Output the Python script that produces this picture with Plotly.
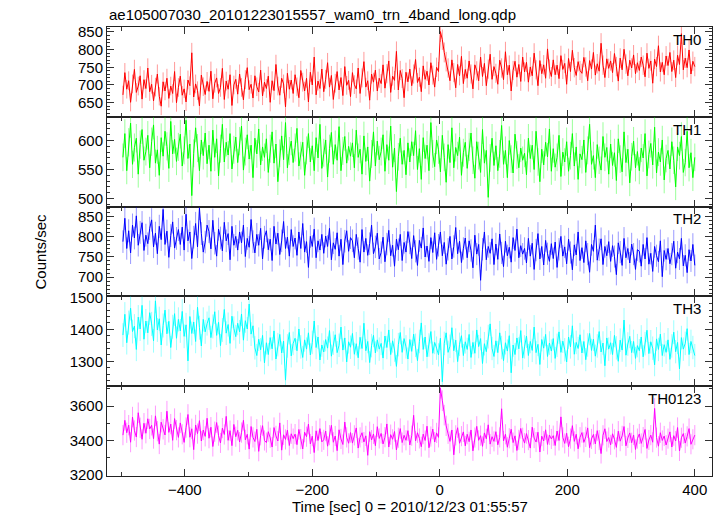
import numpy as np
import plotly.graph_objects as go
from plotly.subplots import make_subplots

TITLE = "ae105007030_20101223015557_wam0_trn_4band_long.qdp"
X_TITLE = "Time [sec] 0 = 2010/12/23 01:55:57"
Y_TITLE = "Counts/sec"
BANDS = ["TH0", "TH1", "TH2", "TH3", "TH0123"]
COLORS = ["#ff0000", "#00ff00", "#0000ff", "#00ffff", "#ff00ff"]
ERR_COLORS = ["rgba(255,0,0,0.4)", "rgba(0,255,0,0.4)", "rgba(0,0,255,0.4)",
              "rgba(0,255,255,0.4)", "rgba(255,0,255,0.4)"]

# time bins (sec, relative to 2010/12/23 01:55:57)
TIME_START = -497
TIME_STEP = 3
BIN_SEC = 1.0

th0 = [672, 735, 688, 712, 651, 703, 744, 679, 697, 726, 660, 715, 690, 748, 681,
       702, 655, 694, 731, 668, 640, 709, 683, 719, 662, 697, 676, 738, 650, 693,
       725, 671, 689, 652, 714, 698, 791, 666, 703, 684, 641, 728, 695, 673, 710,
       682, 739, 661, 705, 720, 676, 693, 747, 659, 711, 688, 729, 642, 700, 716,
       674, 731, 693, 658, 715, 749, 687, 702, 663, 726, 695, 680, 742, 669, 708,
       690, 725, 651, 712, 684, 758, 697, 671, 719, 703, 638, 733, 688, 714, 676,
       729, 695, 664, 741, 708, 683, 719, 652, 736, 700, 779, 672, 711, 690, 745,
       681, 716, 763, 694, 727, 659, 705, 738, 686, 721, 670, 752, 699, 713, 667,
       735, 701, 689, 748, 676, 720, 766, 694, 712, 657, 731, 708, 742, 683, 719,
       704, 757, 691, 732, 768, 679, 725, 713, 795, 686, 741, 718, 664, 736, 709,
       745, 698, 731, 772, 707, 722, 681, 754, 716, 739, 700, 763, 728, 694, 750,
       738, 851, 828, 792, 766, 748, 712, 771, 735, 692, 758, 726, 781, 704, 744,
       719, 768, 731, 689, 757, 740, 712, 779, 724, 761, 698, 745, 787, 716, 752,
       733, 702, 770, 748, 715, 794, 729, 756, 683, 741, 767, 722, 758, 710, 779,
       737, 764, 708, 751, 726, 790, 743, 698, 769, 732, 757, 719, 802, 745, 724,
       771, 729, 756, 718, 783, 744, 761, 702, 775, 738, 798, 749, 727, 766, 741,
       733, 778, 751, 712, 769, 745, 792, 728, 760, 739, 818, 756, 721, 774, 747,
       768, 735, 789, 752, 711, 776, 743, 801, 759, 726, 770, 748, 785, 732, 763,
       741, 779, 756, 723, 790, 747, 768, 705, 773, 752, 811, 737, 764, 729, 782,
       755, 792, 738, 770, 721, 784, 758, 845, 743, 776, 749, 799, 731, 767, 752]

th1 = [571, 612, 548, 597, 630, 559, 588, 604, 542, 593, 619, 566, 581, 609, 553,
       598, 627, 561, 584, 540, 605, 573, 616, 590, 552, 633, 577, 602, 564, 589,
       611, 556, 583, 635, 569, 594, 505, 578, 622, 587, 548, 601, 574, 613, 560,
       592, 547, 618, 571, 603, 539, 586, 628, 563, 597, 575, 612, 551, 584, 606,
       562, 599, 625, 549, 581, 610, 568, 592, 536, 604, 577, 620, 558, 589, 571,
       603, 545, 586, 615, 561, 594, 529, 578, 608, 567, 631, 553, 582, 599, 562,
       588, 621, 556, 574, 597, 540, 583, 612, 563, 591, 548, 605, 570, 628, 552,
       579, 601, 537, 586, 614, 559, 593, 566, 624, 548, 582, 607, 561, 590, 573,
       596, 553, 618, 571, 585, 542, 608, 564, 589, 530, 577, 615, 556, 599, 567,
       581, 610, 547, 593, 566, 625, 554, 587, 512, 572, 604, 559, 583, 541, 596,
       563, 598, 574, 617, 550, 586, 533, 605, 569, 592, 548, 631, 577, 555, 601,
       584, 546, 609, 571, 528, 593, 562, 622, 553, 588, 574, 606, 540, 579, 597,
       552, 589, 613, 566, 535, 598, 574, 545, 619, 561, 583, 502, 570, 604, 557,
       591, 548, 577, 626, 559, 583, 536, 600, 568, 544, 611, 575, 553, 587, 566,
       578, 541, 604, 569, 592, 550, 616, 563, 529, 585, 558, 597, 572, 620, 547,
       586, 554, 571, 609, 538, 580, 563, 598, 547, 574, 612, 556, 589, 533, 577,
       567, 601, 545, 583, 628, 559, 574, 536, 593, 566, 549, 607, 571, 588, 542,
       594, 557, 579, 531, 603, 568, 546, 615, 562, 585, 527, 572, 599, 553, 581,
       548, 587, 570, 612, 539, 576, 595, 558, 623, 544, 580, 563, 601, 532, 569,
       583, 551, 598, 566, 520, 589, 574, 607, 545, 562, 616, 553, 579, 536, 571]

th2 = [788, 846, 771, 815, 760, 829, 797, 852, 779, 811, 835, 766, 804, 783, 821,
       842, 775, 809, 758, 826, 793, 868, 781, 814, 749, 803, 837, 772, 796, 818,
       781, 824, 767, 856, 790, 812, 746, 799, 833, 775, 871, 808, 762, 787, 829,
       813, 770, 841, 784, 752, 819, 797, 765, 836, 790, 808, 743, 826, 779, 801,
       767, 812, 785, 829, 751, 796, 774, 843, 788, 760, 806, 779, 821, 745, 799,
       815, 768, 794, 741, 826, 782, 809, 756, 790, 838, 771, 799, 752, 818, 776,
       797, 754, 812, 771, 833, 762, 788, 724, 801, 776, 819, 748, 790, 767, 806,
       759, 802, 776, 821, 743, 785, 769, 810, 752, 794, 731, 789, 815, 764, 798,
       790, 748, 806, 771, 737, 818, 762, 796, 754, 783, 829, 758, 775, 809, 745,
       761, 799, 738, 782, 816, 753, 779, 727, 794, 768, 806, 741, 786, 762, 813,
       785, 746, 803, 764, 729, 791, 772, 822, 750, 777, 739, 798, 761, 810, 744,
       779, 812, 753, 786, 732, 769, 801, 745, 776, 823, 758, 789, 736, 771, 797,
       748, 790, 766, 723, 804, 757, 781, 692, 769, 812, 743, 776, 759, 795, 731,
       782, 744, 807, 760, 726, 789, 753, 774, 737, 798, 766, 819, 748, 778, 757,
       771, 735, 796, 752, 784, 719, 767, 808, 745, 776, 730, 791, 758, 739, 783,
       746, 787, 724, 769, 801, 752, 775, 733, 794, 761, 718, 780, 755, 812, 741,
       773, 736, 790, 757, 712, 781, 764, 829, 742, 768, 795, 731, 776, 753, 788,
       739, 778, 751, 706, 785, 762, 729, 796, 748, 771, 735, 782, 757, 719, 768,
       764, 727, 781, 745, 798, 732, 759, 714, 776, 753, 738, 790, 701, 766, 744,
       771, 733, 757, 789, 722, 762, 745, 796, 728, 754, 711, 768, 740, 781, 729]

th3 = [1382, 1447, 1358, 1421, 1466, 1393, 1410, 1337, 1438, 1401, 1475, 1369, 1426, 1389, 1452,
       1417, 1364, 1489, 1398, 1433, 1351, 1412, 1460, 1386, 1425, 1343, 1408, 1449, 1372, 1431,
       1395, 1456, 1378, 1414, 1301, 1440, 1387, 1423, 1362, 1469, 1405, 1348, 1431, 1392, 1418,
       1436, 1374, 1409, 1455, 1381, 1422, 1349, 1398, 1462, 1388, 1415, 1356, 1441, 1403, 1377,
       1419, 1392, 1448, 1366, 1427, 1401, 1479, 1385, 1411, 1342, 1318, 1369, 1336, 1381, 1295,
       1358, 1321, 1374, 1339, 1395, 1307, 1352, 1384, 1326, 1363, 1241, 1348, 1390, 1317, 1356,
       1372, 1333, 1401, 1345, 1312, 1367, 1338, 1389, 1320, 1359, 1426, 1343, 1376, 1304, 1351,
       1329, 1368, 1341, 1396, 1316, 1357, 1383, 1327, 1350, 1407, 1335, 1373, 1298, 1361, 1344,
       1387, 1322, 1355, 1311, 1375, 1340, 1419, 1333, 1362, 1296, 1349, 1381, 1326, 1367, 1338,
       1356, 1310, 1379, 1343, 1398, 1321, 1364, 1335, 1284, 1352, 1390, 1328, 1371, 1345, 1307,
       1368, 1331, 1385, 1350, 1302, 1362, 1420, 1337, 1376, 1314, 1351, 1393, 1325, 1359, 1341,
       1320, 1372, 1236, 1356, 1389, 1328, 1347, 1405, 1333, 1366, 1299, 1353, 1380, 1318, 1361,
       1337, 1384, 1312, 1359, 1325, 1398, 1346, 1371, 1293, 1355, 1330, 1377, 1417, 1340, 1315,
       1364, 1327, 1389, 1343, 1302, 1358, 1332, 1380, 1264, 1351, 1321, 1373, 1339, 1396, 1310,
       1345, 1379, 1318, 1362, 1334, 1407, 1327, 1353, 1290, 1368, 1341, 1384, 1315, 1357, 1332,
       1371, 1309, 1350, 1392, 1328, 1363, 1336, 1298, 1376, 1345, 1411, 1322, 1359, 1340, 1383,
       1326, 1362, 1305, 1351, 1387, 1334, 1369, 1316, 1348, 1393, 1329, 1357, 1286, 1373, 1338,
       1358, 1321, 1381, 1342, 1300, 1366, 1335, 1429, 1319, 1354, 1378, 1327, 1362, 1309, 1349,
       1333, 1376, 1314, 1355, 1397, 1324, 1361, 1341, 1289, 1370, 1337, 1385, 1318, 1352, 1328,
       1367, 1306, 1348, 1391, 1330, 1359, 1276, 1374, 1338, 1356, 1402, 1321, 1362, 1343, 1318]

th0123 = [3432, 3518, 3446, 3490, 3391, 3537, 3459, 3421, 3562, 3475, 3408, 3501, 3443, 3527, 3468,
          3489, 3412, 3544, 3455, 3380, 3507, 3466, 3433, 3571, 3448, 3496, 3402, 3528, 3461, 3419,
          3503, 3437, 3390, 3476, 3552, 3420, 3469, 3348, 3491, 3441, 3516, 3398, 3462, 3425, 3530,
          3414, 3478, 3366, 3452, 3505, 3429, 3387, 3473, 3436, 3541, 3402, 3458, 3371, 3494, 3423,
          3460, 3392, 3447, 3518, 3405, 3437, 3351, 3482, 3419, 3395, 3466, 3338, 3431, 3487, 3401,
          3389, 3452, 3417, 3363, 3476, 3428, 3398, 3503, 3345, 3434, 3407, 3461, 3372, 3440, 3412,
          3438, 3377, 3465, 3409, 3352, 3449, 3423, 3496, 3381, 3426, 3331, 3457, 3401, 3470, 3393,
          3405, 3456, 3368, 3432, 3489, 3391, 3427, 3342, 3463, 3410, 3378, 3508, 3419, 3385, 3447,
          3386, 3431, 3474, 3357, 3419, 3446, 3392, 3428, 3315, 3452, 3404, 3439, 3371, 3481, 3413,
          3442, 3381, 3420, 3497, 3363, 3435, 3408, 3453, 3346, 3417, 3470, 3389, 3431, 3402, 3458,
          3375, 3429, 3547, 3398, 3446, 3413, 3365, 3438, 3401, 3484, 3359, 3424, 3467, 3392, 3445,
          3419, 3705, 3632, 3548, 3486, 3440, 3396, 3462, 3318, 3431, 3475, 3385, 3426, 3451, 3370,
          3437, 3394, 3462, 3341, 3418, 3483, 3402, 3429, 3367, 3445, 3411, 3492, 3380, 3423, 3396,
          3452, 3376, 3419, 3585, 3398, 3437, 3362, 3414, 3466, 3389, 3428, 3343, 3405, 3471, 3417,
          3386, 3441, 3403, 3357, 3478, 3415, 3392, 3449, 3334, 3426, 3398, 3463, 3378, 3433, 3410,
          3429, 3372, 3456, 3401, 3538, 3419, 3384, 3443, 3365, 3412, 3487, 3396, 3437, 3353, 3420,
          3447, 3390, 3422, 3474, 3359, 3410, 3436, 3381, 3458, 3403, 3325, 3431, 3469, 3395, 3418,
          3376, 3440, 3408, 3361, 3455, 3397, 3428, 3482, 3370, 3416, 3445, 3388, 3433, 3349, 3412,
          3439, 3384, 3421, 3465, 3355, 3404, 3432, 3391, 3587, 3418, 3368, 3446, 3401, 3427, 3375,
          3412, 3451, 3363, 3429, 3398, 3476, 3340, 3417, 3441, 3386, 3425, 3470, 3379, 3408, 3432]

SERIES = [th0, th1, th2, th3, th0123]
Y_RANGES = [[610, 864], [486, 641], [652, 875], [1222, 1503], [3195, 3716]]
Y_DTICK = [50, 50, 50, 100, 200]
Y_MINOR = [10, 10, 10, 20, 100]
X_RANGE = [-522, 427]

time = TIME_START + TIME_STEP * np.arange(len(th0))

FONT = "Liberation Sans, Arial, Helvetica, sans-serif"

fig = make_subplots(rows=5, cols=1, shared_xaxes=True, vertical_spacing=0)

for i, (name, vals) in enumerate(zip(BANDS, SERIES)):
    v = np.array(vals, dtype=float)
    err = np.sqrt(v * BIN_SEC) / BIN_SEC
    fig.add_trace(go.Scatter(
        x=time, y=v, mode="lines", name=name,
        line=dict(color=COLORS[i], width=1),
        error_y=dict(type="data", array=err, visible=True,
                     color=ERR_COLORS[i], thickness=1, width=0),
        showlegend=False), row=i + 1, col=1)
    fig.update_yaxes(range=Y_RANGES[i], dtick=Y_DTICK[i], row=i + 1, col=1,
                     minor=dict(dtick=Y_MINOR[i], ticks="inside", ticklen=3,
                                tickcolor="#333", showgrid=False))
    fig.add_annotation(text=name, xref=f"x{'' if i == 0 else i + 1} domain",
                       yref=f"y{'' if i == 0 else i + 1} domain",
                       x=0.985, y=0.98, xanchor="right", yanchor="top",
                       showarrow=False, font=dict(size=15, color="black", family=FONT))

fig.update_yaxes(showline=True, mirror="ticks", linecolor="#222", linewidth=1,
                 ticks="inside", ticklen=7, tickcolor="#333", showgrid=False,
                 zeroline=False, automargin=False,
                 tickfont=dict(size=15, color="black", family=FONT))
fig.update_xaxes(range=X_RANGE, dtick=200, showline=True, mirror="ticks",
                 linecolor="#222", linewidth=1, ticks="inside", ticklen=7,
                 tickcolor="#333", showgrid=False, zeroline=False, automargin=False,
                 minor=dict(dtick=100, ticks="inside", ticklen=4, tickcolor="#333",
                            showgrid=False),
                 tickfont=dict(size=15, color="black", family=FONT))

fig.add_annotation(text=TITLE, xref="paper", yref="paper", x=0, y=1,
                   xanchor="left", yanchor="bottom", yshift=2, showarrow=False,
                   font=dict(size=15, color="black", family=FONT))
fig.add_annotation(text=Y_TITLE, xref="paper", yref="paper", x=0, y=0.5,
                   xanchor="center", yanchor="middle", xshift=-67, textangle=-90,
                   showarrow=False, font=dict(size=15, color="black", family=FONT))
fig.add_annotation(text=X_TITLE, xref="paper", yref="paper", x=0.5, y=0,
                   xanchor="center", yanchor="middle", yshift=-30,
                   showarrow=False, font=dict(size=15, color="black", family=FONT))

fig.update_layout(width=719, height=516, margin=dict(l=107, r=7, t=27, b=40),
                  plot_bgcolor="white", paper_bgcolor="white",
                  font=dict(family=FONT, size=15, color="black"))

fig.write_html("out.html", config={"displayModeBar": False},
               post_script="document.body.style.margin='0px';"
                           "document.body.style.padding='0px';"
                           "document.body.style.overflow='hidden';")
